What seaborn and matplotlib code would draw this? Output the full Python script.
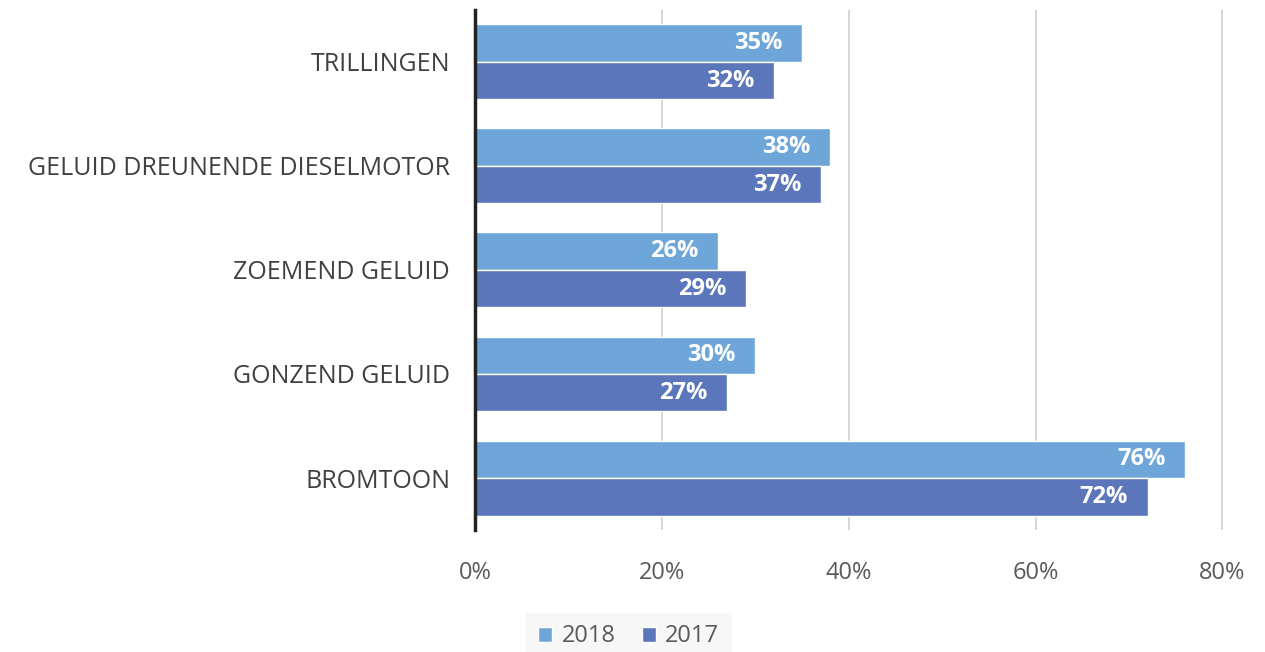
import matplotlib
matplotlib.use("Agg")
import matplotlib.pyplot as plt
import seaborn as sns
import pandas as pd

categories = ["TRILLINGEN", "GELUID DREUNENDE DIESELMOTOR", "ZOEMEND GELUID", "GONZEND GELUID", "BROMTOON"]
values_2018 = [35, 38, 26, 30, 76]
values_2017 = [32, 37, 29, 27, 72]
years = ["2018", "2017"]
xticks = [0, 20, 40, 60, 80]

rows = []
for c, a, b in zip(categories, values_2018, values_2017):
    rows.append({"cat": c, "year": "2018", "val": a})
    rows.append({"cat": c, "year": "2017", "val": b})
df = pd.DataFrame(rows)

sns.set_theme(style="white")
plt.rcParams["font.family"] = ["Open Sans", "DejaVu Sans"]

fig = plt.figure(figsize=(12.65, 6.52), dpi=100)
ax = fig.add_axes([0.3755, 0.187, 0.593, 0.798])

palette = {"2018": "#6ea6da", "2017": "#5b76ba"}
sns.barplot(data=df, y="cat", x="val", hue="year", hue_order=years, order=categories,
            palette=palette, orient="h", width=0.72, ax=ax, saturation=1,
            edgecolor="white", linewidth=1)

for cont in ax.containers:
    anns = ax.bar_label(cont, labels=[f"{int(v)}%" for v in cont.datavalues], padding=-14,
                        color="white", fontsize=17, fontweight="bold")
    for a in anns:
        a.set_ha("right")

ax.set_xlim(0, 80.3)
ax.set_ylim(4.5, -0.5)
ax.set_xticks(xticks)
ax.set_xticklabels([f"{t}%" for t in xticks], color="#595959", fontsize=17)
ax.tick_params(axis="x", pad=22, length=0)
ax.tick_params(axis="y", pad=18, length=0)
ax.set_yticklabels(categories, color="#404040", fontsize=18)
ax.set_xlabel("")
ax.set_ylabel("")
ax.xaxis.grid(True, color="#d0d0d0", linewidth=1.2)
ax.set_axisbelow(True)
for s in ["top", "right", "bottom"]:
    ax.spines[s].set_visible(False)
ax.spines["left"].set_color("#222222")
ax.spines["left"].set_linewidth(2.5)

leg = ax.legend(loc="upper center", bbox_to_anchor=(0.205, -0.145), ncol=2, frameon=True,
                fontsize=17, handlelength=0.6, handleheight=0.6, handletextpad=0.4,
                columnspacing=1.1, borderpad=0.5, borderaxespad=0.3, fancybox=False)
leg.get_frame().set_facecolor("#f6f6f6")
leg.get_frame().set_edgecolor("#f6f6f6")
for t in leg.get_texts():
    t.set_color("#595959")

fig.savefig("out.png", dpi=100)
